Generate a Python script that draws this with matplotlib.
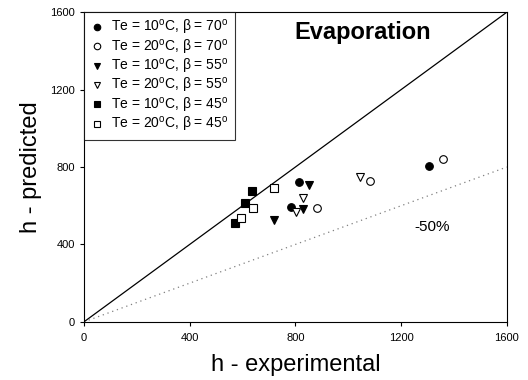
import matplotlib
matplotlib.use("Agg")
import matplotlib.pyplot as plt

plt.rcParams['font.family'] = ['Liberation Sans', 'DejaVu Sans']

# data (h - experimental, h - predicted)
x_10_70 = [813, 783, 1306]
y_10_70 = [721, 595, 805]
x_20_70 = [880, 1082, 1359]
y_20_70 = [590, 728, 841]
x_10_55 = [720, 852, 829]
y_10_55 = [526, 707, 583]
x_20_55 = [827, 804, 1046]
y_20_55 = [642, 566, 750]
x_10_45 = [636, 611, 572]
y_10_45 = [678, 613, 512]
x_20_45 = [720, 638, 593]
y_20_45 = [690, 587, 538]

labels = [
    r"Te = 10$^\mathregular{o}$C, β = 70$^\mathregular{o}$",
    r"Te = 20$^\mathregular{o}$C, β = 70$^\mathregular{o}$",
    r"Te = 10$^\mathregular{o}$C, β = 55$^\mathregular{o}$",
    r"Te = 20$^\mathregular{o}$C, β = 55$^\mathregular{o}$",
    r"Te = 10$^\mathregular{o}$C, β = 45$^\mathregular{o}$",
    r"Te = 20$^\mathregular{o}$C, β = 45$^\mathregular{o}$",
]
ticks = [0, 400, 800, 1200, 1600]

fig = plt.figure(figsize=(5.28, 3.8), dpi=100)
ax = fig.add_axes([0.159, 0.153, 0.801, 0.815])

# reference lines: perfect agreement and -50%
ax.plot([0, 1600], [0, 1600], color="black", lw=0.9)
ax.plot([0, 1600], [0, 800], color="gray", lw=0.9, ls=(0, (1, 3)))

series = [
    (x_10_70, y_10_70, "o", "black"),
    (x_20_70, y_20_70, "o", "white"),
    (x_10_55, y_10_55, "v", "black"),
    (x_20_55, y_20_55, "v", "white"),
    (x_10_45, y_10_45, "s", "black"),
    (x_20_45, y_20_45, "s", "white"),
]
for (xs, ys, m, fc), lab in zip(series, labels):
    ax.plot(xs, ys, ls="none", marker=m, ms=5.5, mfc=fc, mec="black",
            mew=0.8, label=lab)

ax.set_xlim(0, 1600)
ax.set_ylim(0, 1600)
ax.set_xticks(ticks)
ax.set_yticks(ticks)
ax.tick_params(labelsize=8, length=3, width=0.8)
ax.tick_params(axis="x", pad=5)
ax.set_xlabel("h - experimental", fontsize=17, labelpad=8)
ax.set_ylabel("h - predicted", fontsize=17, labelpad=6)

ax.text(1055, 1495, "Evaporation", fontsize=17, fontweight="bold",
        ha="center", va="center")
ax.text(1250, 490, "-50%", fontsize=11, ha="left", va="center")

leg = ax.legend(loc="upper left", fontsize=10, frameon=True, fancybox=False,
                borderaxespad=0, handletextpad=0.5, labelspacing=0.02,
                borderpad=0.45, handlelength=1.0, markerscale=0.85)
leg.get_frame().set_edgecolor("black")
leg.get_frame().set_linewidth(0.8)

fig.savefig("out.png", dpi=100)
